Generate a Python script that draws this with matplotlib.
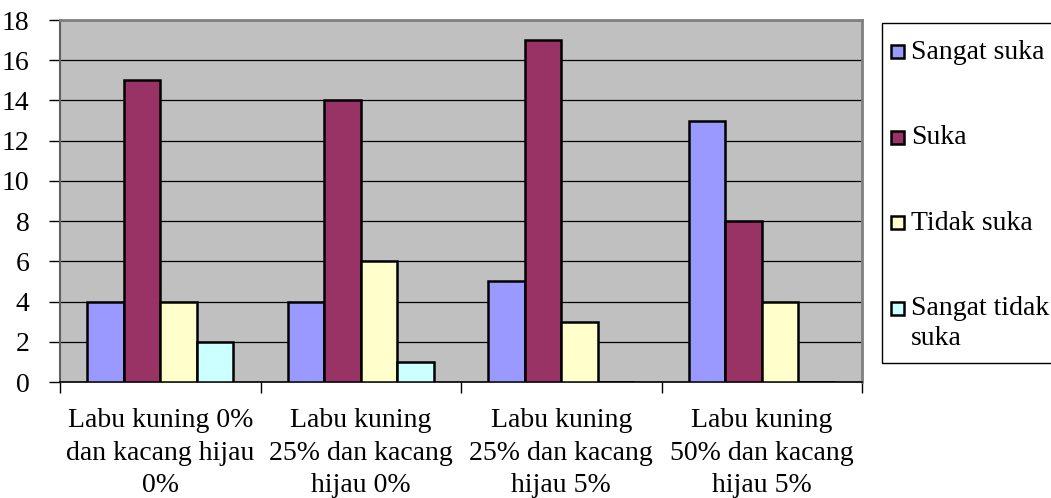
import matplotlib
matplotlib.use("Agg")
import matplotlib.pyplot as plt
from matplotlib.patches import Rectangle
import numpy as np

plt.rcParams['font.family'] = ['Liberation Serif', 'DejaVu Serif']

# categories and counts per preference level
kategori = ["Labu kuning 0%\ndan kacang hijau\n0%",
            "Labu kuning\n25% dan kacang\nhijau 0%",
            "Labu kuning\n25% dan kacang\nhijau 5%",
            "Labu kuning\n50% dan kacang\nhijau 5%"]
seri = ["Sangat suka", "Suka", "Tidak suka", "Sangat tidak\nsuka"]
sangat_suka = [4, 4, 5, 13]
suka = [15, 14, 17, 8]
tidak_suka = [4, 6, 3, 4]
sangat_tidak_suka = [2, 1, 0, 0]
warna = ["#9999FF", "#993366", "#FFFFCC", "#CCFFFF"]

W, H = 1051, 498
fig = plt.figure(figsize=(W / 100, H / 100), dpi=100)
ax = fig.add_axes([60 / W, 1 - 382 / H, 802 / W, 362 / H])
ax.set_facecolor("#C0C0C0")

nilai = [sangat_suka, suka, tidak_suka, sangat_tidak_suka]
x = np.arange(len(kategori)) + 0.5
w = 0.1825
for k, (vals, c) in enumerate(zip(nilai, warna)):
    ax.bar(x + (k - 1.5) * w, vals, width=w, color=c, edgecolor="black",
           linewidth=1.8, zorder=3)

ax.set_xlim(0, 4)
ax.set_ylim(0, 18)
ax.set_yticks(range(0, 19, 2))
ax.yaxis.grid(True, color="black", linewidth=0.9, zorder=1)
ax.set_axisbelow(True)

ax.set_xticks(x)
ax.set_xticklabels(kategori, fontsize=20, linespacing=1.38)
ax.set_xticks(np.arange(0, 5), minor=True)
ax.tick_params(axis="x", which="major", length=0, pad=19)
ax.tick_params(axis="x", which="minor", length=8, width=1, color="black")
ax.tick_params(axis="y", length=8, width=1, labelsize=20, pad=14)

for s in ["top", "right"]:
    ax.spines[s].set_color("#808080")
    ax.spines[s].set_linewidth(2)
ax.spines["left"].set_color("#606060")
ax.spines["left"].set_linewidth(1.5)
ax.spines["bottom"].set_color("black")
ax.spines["bottom"].set_linewidth(1.2)

# legend box on the right
fig.add_artist(Rectangle((882 / W, 1 - 363 / H), 300 / W, 340 / H,
                         transform=fig.transFigure, fill=False,
                         edgecolor="black", linewidth=1))
ys = [52, 137, 223, 308]
for label, c, yc in zip(seri, warna, ys):
    fig.add_artist(Rectangle((891 / W, 1 - (yc + 6.5) / H), 13 / W, 13 / H,
                             transform=fig.transFigure, facecolor=c,
                             edgecolor="black", linewidth=1.8))
    fig.text(911 / W, 1 - (yc - 12) / H, label, fontsize=20, ha="left",
             va="top", linespacing=1.25)

fig.savefig("out.png", dpi=100)
